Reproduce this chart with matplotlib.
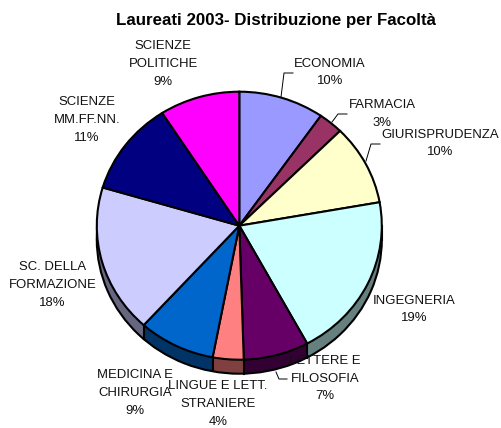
import matplotlib
matplotlib.use("Agg")
import matplotlib.pyplot as plt
from matplotlib.lines import Line2D
import numpy as np

faculties = ["ECONOMIA", "FARMACIA", "GIURISPRUDENZA", "INGEGNERIA", "LETTERE E\nFILOSOFIA",
             "LINGUE E LETT.\nSTRANIERE", "MEDICINA E\nCHIRURGIA", "SC. DELLA\nFORMAZIONE",
             "SCIENZE\nMM.FF.NN.", "SCIENZE\nPOLITICHE"]
values = [9.7, 2.8, 9.7, 19.9, 7.4, 3.5, 8.7, 17.9, 11.3, 9.1]
percent_labels = ["10%", "3%", "10%", "19%", "7%", "4%", "9%", "18%", "11%", "9%"]
colors = ["#9999FF", "#993366", "#FFFFCC", "#CCFFFF", "#660066",
          "#FF8080", "#0066CC", "#CCCCFF", "#000080", "#FF00FF"]
dark_colors = ["#4C4C80", "#4C1A33", "#808066", "#668080", "#330033",
               "#804040", "#003366", "#666680", "#000040", "#800080"]

W, H = 501, 428
cx, cy, rx, ry, depth_px = 239.3, 225.7, 142.5, 134.0, 14.0
label_pos = [(330, 72.5), (382, 114), (440, 143.5), (414, 309.5), (325, 378.5),
             (218, 404), (135, 393), (52.5, 285), (87, 120), (163, 64)]
leaders = [[(281, 97), (284, 73), (293, 73)],
           [(332, 122), (338, 114), (347, 114)],
           [(366, 161), (371, 144), (380, 144)],
           [(276, 372), (279, 379), (287, 379)]]

plt.rcParams["font.family"] = ["Liberation Sans", "DejaVu Sans"]
fig = plt.figure(figsize=(W / 100, H / 100), dpi=100, facecolor="white")
ax = fig.add_axes([0, 0, 1, 1])
d = depth_px / ry
kw = dict(counterclock=False, startangle=90, radius=1.0, normalize=True)

# extruded side: stacked dark copies of the pie
for off in np.linspace(d, 0, 15):
    ax.pie(values, colors=dark_colors, center=(0, -off),
           wedgeprops=dict(linewidth=0.6, edgecolor="none"), **kw)
# outer outline of the bottom rim (spoke hidden below the top face)
ax.pie([1], colors=["none"], center=(0, -d),
       wedgeprops=dict(linewidth=1.5, edgecolor="black", facecolor="none"), **kw)
# vertical side edges at wedge boundaries on the lower half
bounds = np.cumsum(values) / np.sum(values) * 2 * np.pi
for b in bounds:
    x, y = np.sin(b), np.cos(b)
    if y < 0:
        ax.plot([x, x], [y, y - d], color="black", lw=1.5, zorder=5)
ax.plot([-1, -1], [0, -d], color="black", lw=1.5)
ax.plot([1, 1], [0, -d], color="black", lw=1.5)
# top face
wedges, _ = ax.pie(values, colors=colors, center=(0, 0),
                   wedgeprops=dict(linewidth=1.5, edgecolor="black"), **kw)
for w in wedges:
    w.set_zorder(6)

ax.set_aspect("auto")
ax.set_xlim(-cx / rx, (W - cx) / rx)
ax.set_ylim(-(H - cy) / ry, cy / ry)
ax.axis("off")

for path in leaders:
    xs, ys = zip(*path)
    fig.add_artist(Line2D([x / W for x in xs], [1 - y / H for y in ys],
                          color="black", lw=0.7))

for name, pct, (x, y) in zip(faculties, percent_labels, label_pos):
    fig.text(x / W, 1 - y / H, f"{name}\n{pct}", ha="center", va="center",
             fontsize=9.45, linespacing=1.63, color="#111111", zorder=10)

fig.text(276 / W, 1 - 21 / H, "Laureati 2003- Distribuzione per Facoltà", ha="center",
         va="center", fontsize=12.15, fontweight="bold")
fig.savefig("out.png", dpi=100)
